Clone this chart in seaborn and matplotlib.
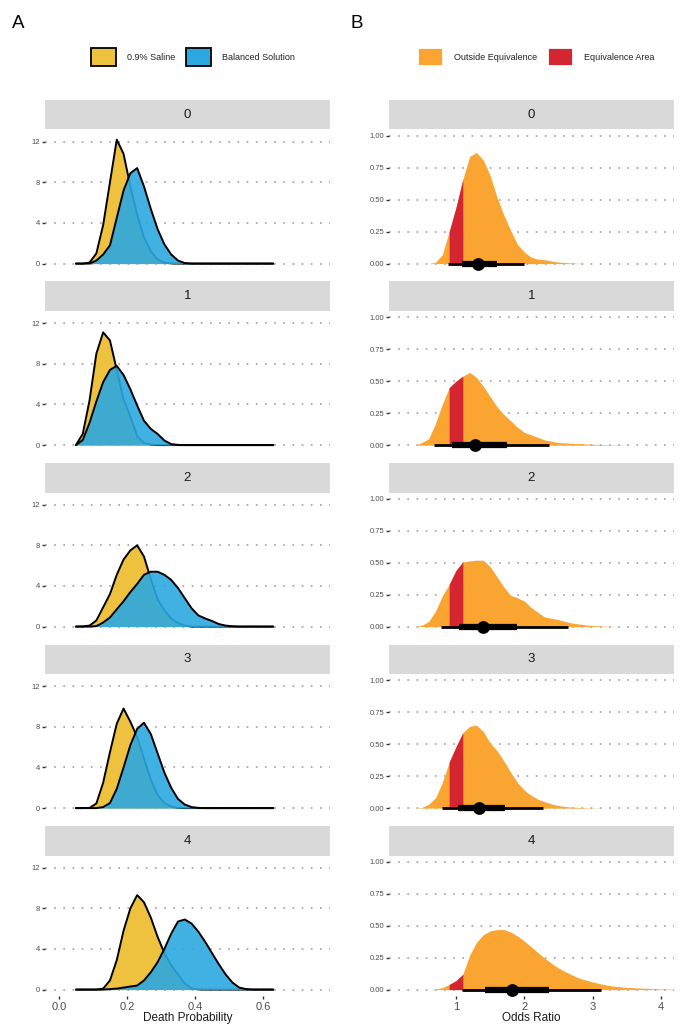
import numpy as np
import matplotlib
matplotlib.use('Agg')
import matplotlib.pyplot as plt
from matplotlib.patches import Patch
import seaborn as sns

sns.set_theme(style='white')
plt.rcParams['font.family'] = ['Liberation Sans', 'DejaVu Sans']

groups = ['0', '1', '2', '3', '4']

# panel A: death probability densities
prob_grid = [0.05, 0.07, 0.09, 0.11, 0.13, 0.15, 0.17, 0.19, 0.21, 0.23,
             0.25, 0.27, 0.29, 0.31, 0.33, 0.35, 0.37, 0.39, 0.41, 0.43,
             0.45, 0.47, 0.49, 0.51, 0.53, 0.55, 0.57, 0.59, 0.61, 0.63]

saline_0 = [0, 0, 0.1, 1.0, 3.8, 8.0, 12.2, 10.8, 7.6, 4.8, 2.6, 1.2, 0.4, 0.1, 0.02] + [0] * 15
saline_1 = [0, 1.1, 4.4, 9.0, 11.1, 10.3, 7.4, 4.5, 2.8, 0.9, 0.2, 0.05] + [0] * 18
saline_2 = [0, 0.02, 0.1, 0.6, 1.9, 3.2, 5.1, 6.6, 7.5, 8.0, 6.9, 4.7, 2.7, 1.6, 0.8,
            0.35, 0.1] + [0] * 13
saline_3 = [0, 0, 0.02, 0.45, 2.5, 5.5, 8.3, 9.8, 8.5, 7.0, 4.9, 2.8, 1.3, 0.5, 0.15,
            0.03] + [0] * 14
saline_4 = [0, 0, 0, 0, 0.1, 0.9, 2.9, 5.8, 8.0, 9.3, 8.6, 7.1, 5.2, 3.6, 2.4, 1.5,
            0.6, 0.1, 0.02] + [0] * 11

balanced_0 = [0, 0, 0, 0.3, 0.9, 1.8, 4.5, 7.2, 8.9, 9.4, 7.6, 5.4, 3.4, 1.9, 0.9,
              0.3, 0.05] + [0] * 13
balanced_1 = [0, 0.5, 2.2, 4.3, 6.2, 7.4, 7.8, 6.9, 5.5, 3.9, 2.4, 1.6, 1.1, 0.45,
              0.1, 0.02] + [0] * 14
balanced_2 = [0, 0, 0, 0.05, 0.4, 0.9, 1.7, 2.5, 3.4, 4.2, 5.1, 5.4, 5.4, 5.1, 4.6,
              3.8, 2.8, 1.8, 1.1, 0.8, 0.55, 0.25, 0.1, 0.03] + [0] * 6
balanced_3 = [0, 0, 0, 0, 0.1, 0.5, 1.9, 4.0, 6.2, 7.8, 8.4, 7.3, 5.4, 3.5, 2.0,
              0.9, 0.35, 0.1, 0.02] + [0] * 11
balanced_4 = [0, 0, 0, 0, 0, 0.05, 0.1, 0.2, 0.3, 0.4, 0.9, 1.7, 2.7, 4.0, 5.5, 6.7,
              6.9, 6.5, 5.7, 4.7, 3.6, 2.5, 1.5, 0.7, 0.2, 0.05] + [0] * 4

saline = [saline_0, saline_1, saline_2, saline_3, saline_4]
balanced = [balanced_0, balanced_1, balanced_2, balanced_3, balanced_4]

# panel B: odds ratio densities
or_grid = [0.4, 0.5, 0.6, 0.7, 0.8, 0.9, 1.0, 1.1, 1.2, 1.3, 1.4, 1.5, 1.6, 1.7,
           1.8, 1.9, 2.0, 2.1, 2.2, 2.3, 2.4, 2.5, 2.6, 2.7, 2.8, 2.9, 3.0, 3.1,
           3.2, 3.3, 3.4, 3.5, 3.6, 3.7, 3.8, 3.9, 4.0, 4.1, 4.2]

or_0 = [0, 0, 0, 0.01, 0.07, 0.25, 0.44, 0.66, 0.84, 0.87, 0.81, 0.69, 0.52, 0.38,
        0.26, 0.15, 0.09, 0.05, 0.035, 0.03, 0.02, 0.012, 0.008, 0.005, 0.002] + [0] * 14
or_1 = [0, 0.02, 0.05, 0.17, 0.32, 0.45, 0.50, 0.54, 0.57, 0.53, 0.46, 0.38, 0.30,
        0.24, 0.19, 0.14, 0.10, 0.08, 0.06, 0.04, 0.03, 0.02, 0.017, 0.014, 0.012,
        0.009, 0.007, 0.005, 0.004, 0.003, 0.002, 0.001] + [0] * 7
or_2 = [0, 0.01, 0.04, 0.12, 0.24, 0.33, 0.44, 0.505, 0.515, 0.52, 0.52, 0.47, 0.39,
        0.31, 0.245, 0.225, 0.20, 0.15, 0.11, 0.075, 0.065, 0.055, 0.04, 0.028, 0.02,
        0.013, 0.008, 0.005, 0.003, 0.002, 0.001] + [0] * 8
or_3 = [0, 0.005, 0.03, 0.08, 0.2, 0.36, 0.48, 0.59, 0.64, 0.65, 0.60, 0.51, 0.45,
        0.37, 0.28, 0.20, 0.14, 0.10, 0.07, 0.05, 0.032, 0.02, 0.012, 0.008, 0.005,
        0.003, 0.002, 0.001] + [0] * 11
or_4 = [0, 0, 0, 0.005, 0.015, 0.04, 0.07, 0.12, 0.27, 0.37, 0.43, 0.46, 0.47, 0.47,
        0.45, 0.42, 0.38, 0.335, 0.29, 0.245, 0.205, 0.17, 0.14, 0.115, 0.09, 0.075,
        0.06, 0.047, 0.036, 0.028, 0.022, 0.018, 0.015, 0.012, 0.01, 0.007, 0.005,
        0.004, 0.003]
odds = [or_0, or_1, or_2, or_3, or_4]

or_median = [1.32, 1.28, 1.40, 1.33, 1.82]
or_lo66 = [1.09, 0.94, 1.04, 1.03, 1.43]
or_hi66 = [1.60, 1.74, 1.90, 1.72, 2.36]
or_lo95 = [0.88, 0.68, 0.78, 0.79, 1.09]
or_hi95 = [2.00, 2.36, 2.64, 2.28, 3.12]

rope = (0.9, 1.1)

c_saline = '#EEC13E'
c_balanced = '#2CA8E0'
c_outside = '#FAA531'
c_equiv = '#D32630'
grid_col = '#a0a0a0'
text_col = '#4d4d4d'

W, H = 688, 1026
fig = plt.figure(figsize=(W / 100, H / 100), dpi=100)


def box(x0, x1, top, bottom):
    return [x0 / W, 1 - bottom / H, (x1 - x0) / W, (bottom - top) / H]


def style_axes(ax, yticks, ylabels, last):
    ax.set_facecolor('white')
    for s in ax.spines.values():
        s.set_visible(False)
    ax.set_yticks(yticks)
    ax.set_yticklabels(ylabels)
    ax.yaxis.grid(True, linestyle=(0, (1, 4.5)), color=grid_col, linewidth=1.2)
    ax.xaxis.grid(False)
    ax.set_axisbelow(True)
    ax.tick_params(axis='y', left=True, length=2.5, width=1, color='#333333',
                   labelsize=5.5, labelcolor=text_col, pad=1)
    if last:
        ax.tick_params(axis='x', bottom=True, length=2.5, width=1, color='#333333',
                       labelsize=8, labelcolor=text_col, pad=2)
    else:
        ax.set_xticks([])
    ax.set_xlabel('')
    ax.set_ylabel('')


def strip(x0, x1, top, label):
    sax = fig.add_axes(box(x0, x1, top, top + 29.5))
    sax.set_facecolor('#d9d9d9')
    for s in sax.spines.values():
        s.set_visible(False)
    sax.set_xticks([])
    sax.set_yticks([])
    sax.text(0.5, 0.5, label, ha='center', va='center', fontsize=9.5,
             color='#1a1a1a', transform=sax.transAxes)


ox = np.array(or_grid)
in_rope = (ox >= rope[0] - 1e-9) & (ox <= rope[1] + 1e-9)

for i, g in enumerate(groups):
    top = 100 + 181.5 * i
    last = i == len(groups) - 1

    # left column
    strip(45, 330, top, g)
    ax = fig.add_axes(box(45, 330, top + 29.5, top + 170))
    ax.fill_between(prob_grid, saline[i], color=c_saline, linewidth=0, zorder=2)
    sns.lineplot(x=prob_grid, y=saline[i], color='black', linewidth=1.4, ax=ax, zorder=3)
    ax.fill_between(prob_grid, balanced[i], color=c_balanced, alpha=0.9,
                    linewidth=0, zorder=4)
    sns.lineplot(x=prob_grid, y=balanced[i], color='black', linewidth=1.4, ax=ax, zorder=5)
    ax.set_xlim(-0.041, 0.797)
    ax.set_ylim(-0.63, 13.2)
    style_axes(ax, [0, 4, 8, 12], ['0', '4', '8', '12'], last)
    if last:
        ax.set_xticks([0.0, 0.2, 0.4, 0.6])
        ax.set_xticklabels(['0.0', '0.2', '0.4', '0.6'])
        ax.set_xlabel('Death Probability', fontsize=8.5, color='#1a1a1a', labelpad=0)

    # right column
    strip(389, 674, top, g)
    bx = fig.add_axes(box(389, 674, top + 29.5, top + 170))
    bx.fill_between(or_grid, odds[i], color=c_outside, linewidth=0, zorder=2)
    bx.fill_between(or_grid, odds[i], where=in_rope, color=c_equiv, linewidth=0, zorder=3)
    bx.plot([or_lo95[i], or_hi95[i]], [0, 0], color='black', linewidth=2,
            solid_capstyle='butt', zorder=4)
    bx.plot([or_lo66[i], or_hi66[i]], [0, 0], color='black', linewidth=4.5,
            solid_capstyle='butt', zorder=5)
    sns.scatterplot(x=[or_median[i]], y=[0], color='black', s=85, edgecolor='black',
                    linewidth=0, ax=bx, zorder=6, clip_on=False)
    bx.set_xlim(0.02, 4.19)
    bx.set_ylim(-0.05, 1.05)
    style_axes(bx, [0, 0.25, 0.5, 0.75, 1.0],
               ['0.00', '0.25', '0.50', '0.75', '1.00'], last)
    if last:
        bx.set_xticks([1, 2, 3, 4])
        bx.set_xticklabels(['1', '2', '3', '4'])
        bx.set_xlabel('Odds Ratio', fontsize=8.5, color='#1a1a1a', labelpad=0)

# legends
leg_kw = dict(loc='center', ncol=2, frameon=False, fontsize=6.5,
              handlelength=2.8, handleheight=2.8, handletextpad=1.2,
              columnspacing=1.2, labelcolor='#222222')
fig.legend(handles=[Patch(facecolor=c_saline, edgecolor='black', linewidth=1.3,
                          label='0.9% Saline'),
                    Patch(facecolor=c_balanced, edgecolor='black', linewidth=1.3,
                          label='Balanced Solution')],
           bbox_to_anchor=(193 / W, 1 - 57 / H), **leg_kw)
fig.legend(handles=[Patch(facecolor=c_outside, edgecolor='white', linewidth=1.3,
                          label='Outside Equivalence'),
                    Patch(facecolor=c_equiv, edgecolor='white', linewidth=1.3,
                          label='Equivalence Area')],
           bbox_to_anchor=(536 / W, 1 - 57 / H), **leg_kw)

fig.text(12 / W, 1 - 24 / H, 'A', fontsize=13.5, va='center', ha='left', color='black')
fig.text(350 / W, 1 - 24 / H, 'B', fontsize=13.5, va='center', ha='left', color='black')

fig.savefig('out.png', dpi=100, facecolor='white')
